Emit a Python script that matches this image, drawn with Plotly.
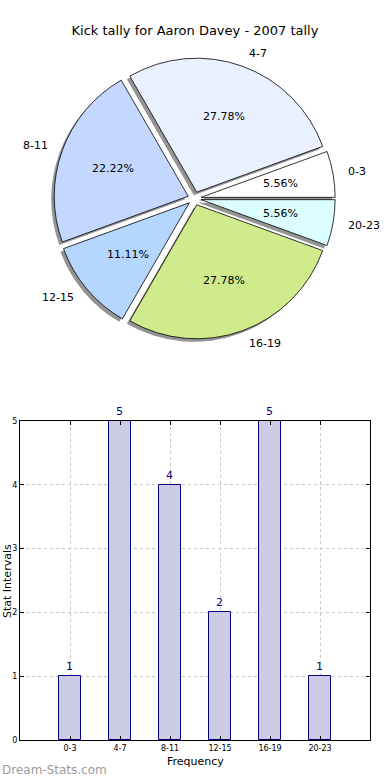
import math
import plotly.graph_objects as go

# ---- data ----
categories = ["0-3", "4-7", "8-11", "12-15", "16-19", "20-23"]
counts = [1, 5, 4, 2, 5, 1]
pie_colors = ["#ffffff", "#e9f0ff", "#c4d8ff", "#b4d6ff", "#d0eb8b", "#dbffff"]
title_text = "Kick tally for Aaron Davey - 2007 tally"
y_ticks = [0, 1, 2, 3, 4, 5]

W, H = 390, 780
FONT = "DejaVu Sans"

# pie geometry (pixels)
cx, cy = 194.5, 198.5
r = 134.0
pull = 0.05
half = r * (1 + pull)

def px_x(x):
    return x / W

def px_y(y):
    return 1 - y / H

total = sum(counts)
# plotly's counterclockwise layout: shift so first slice starts at 3 o'clock
rot = 90 - 360 * counts[0] / total

dom_x = [px_x(cx - half), px_x(cx + half)]
dom_y = [px_y(cy + half), px_y(cy - half)]
sh_dx, sh_dy = -3.0, 3.0
sdom_x = [px_x(cx - half + sh_dx), px_x(cx + half + sh_dx)]
sdom_y = [px_y(cy + half + sh_dy), px_y(cy - half + sh_dy)]

fig = go.Figure()

# shadow pie
fig.add_trace(go.Pie(
    labels=categories, values=counts, sort=False, direction="counterclockwise",
    rotation=rot, pull=[pull] * len(counts),
    marker=dict(colors=["rgba(0,0,0,0.42)"] * len(counts), line=dict(width=0)),
    textinfo="none", hoverinfo="skip", showlegend=False,
    domain=dict(x=sdom_x, y=sdom_y),
))
# main pie
fig.add_trace(go.Pie(
    labels=categories, values=counts, sort=False, direction="counterclockwise",
    rotation=rot, pull=[pull] * len(counts),
    marker=dict(colors=pie_colors, line=dict(color="#000000", width=0.8)),
    textinfo="none", showlegend=False,
    domain=dict(x=dom_x, y=dom_y),
))

annotations = []
cum = 0
for lab, v in zip(categories, counts):
    a0 = 360 * cum / total
    a1 = 360 * (cum + v) / total
    cum += v
    mid = math.radians((a0 + a1) / 2)
    c, s = math.cos(mid), math.sin(mid)
    pr = r * (0.6 + pull)
    annotations.append(dict(
        x=px_x(cx + pr * c), y=px_y(cy - pr * s), xref="paper", yref="paper",
        text=f"{100 * v / total:.2f}%", showarrow=False,
        xanchor="center", yanchor="middle", font=dict(family=FONT, size=11, color="#000")))
    lr = r * (1.1 + pull)
    annotations.append(dict(
        x=px_x(cx + lr * c), y=px_y(cy - lr * s), xref="paper", yref="paper",
        text=lab, showarrow=False,
        xanchor="left" if c > 0 else "right", yanchor="middle",
        font=dict(family=FONT, size=11, color="#000")))

# bar chart
fig.add_trace(go.Bar(
    x=categories, y=counts, width=0.45,
    marker=dict(color="#cccce5", line=dict(color="#000080", width=1)),
    text=[str(v) for v in counts], textposition="outside",
    textfont=dict(family=FONT, size=11, color="#000080"),
    cliponaxis=False, showlegend=False, xaxis="x", yaxis="y",
))

annotations.append(dict(x=px_x(7), y=px_y(581), xref="paper", yref="paper",
                        text="Stat Intervals", textangle=-90, showarrow=False,
                        xanchor="center", yanchor="middle",
                        font=dict(family=FONT, size=11, color="#000")))
annotations.append(dict(x=px_x(195), y=px_y(761), xref="paper", yref="paper",
                        text="Frequency", showarrow=False,
                        xanchor="center", yanchor="middle",
                        font=dict(family=FONT, size=11, color="#000")))
annotations.append(dict(x=0, y=px_y(770), xref="paper", yref="paper",
                        text="Dream-Stats.com", showarrow=False,
                        xanchor="left", yanchor="middle",
                        font=dict(family=FONT, size=12, color="#9a9a9a")))

grid = dict(showgrid=True, gridcolor="#c8c8c8", griddash="dot", gridwidth=1)
fig.update_layout(
    width=W, height=H, margin=dict(l=0, r=0, t=0, b=0, autoexpand=False),
    paper_bgcolor="white", plot_bgcolor="white",
    font=dict(family=FONT, size=11, color="#000"),
    title=dict(text=title_text, x=0.5, xanchor="center", y=px_y(30), yanchor="middle",
               font=dict(family=FONT, size=13, color="#000")),
    xaxis=dict(domain=[px_x(20), px_x(370)], anchor="y", type="category",
               range=[-1, 6], showline=True, linecolor="#000", linewidth=1, mirror="ticks",
               ticks="inside", ticklen=4, tickcolor="#000", automargin=False,
               tickfont=dict(family=FONT, size=8, color="#000"), zeroline=False, **grid),
    yaxis=dict(domain=[px_y(740), px_y(421)], anchor="x", range=[0, 5],
               tickvals=y_ticks, showline=True, linecolor="#000", linewidth=1, mirror="ticks",
               ticks="inside", ticklen=4, tickcolor="#000", automargin=False,
               tickfont=dict(family=FONT, size=8, color="#000"), zeroline=False, **grid),
    annotations=annotations,
    bargap=0,
)

post = (
    "document.documentElement.style.margin='0';"
    "document.documentElement.style.overflow='hidden';"
    "document.body.style.margin='0';"
    "document.body.style.overflow='hidden';"
    "var d=document.getElementById('{plot_id}');"
    "if(d&&d.parentElement){d.parentElement.style.height='780px';"
    "d.parentElement.style.overflow='hidden';}"
)
fig.write_html("out.html", config={"displayModeBar": False}, post_script=post)
